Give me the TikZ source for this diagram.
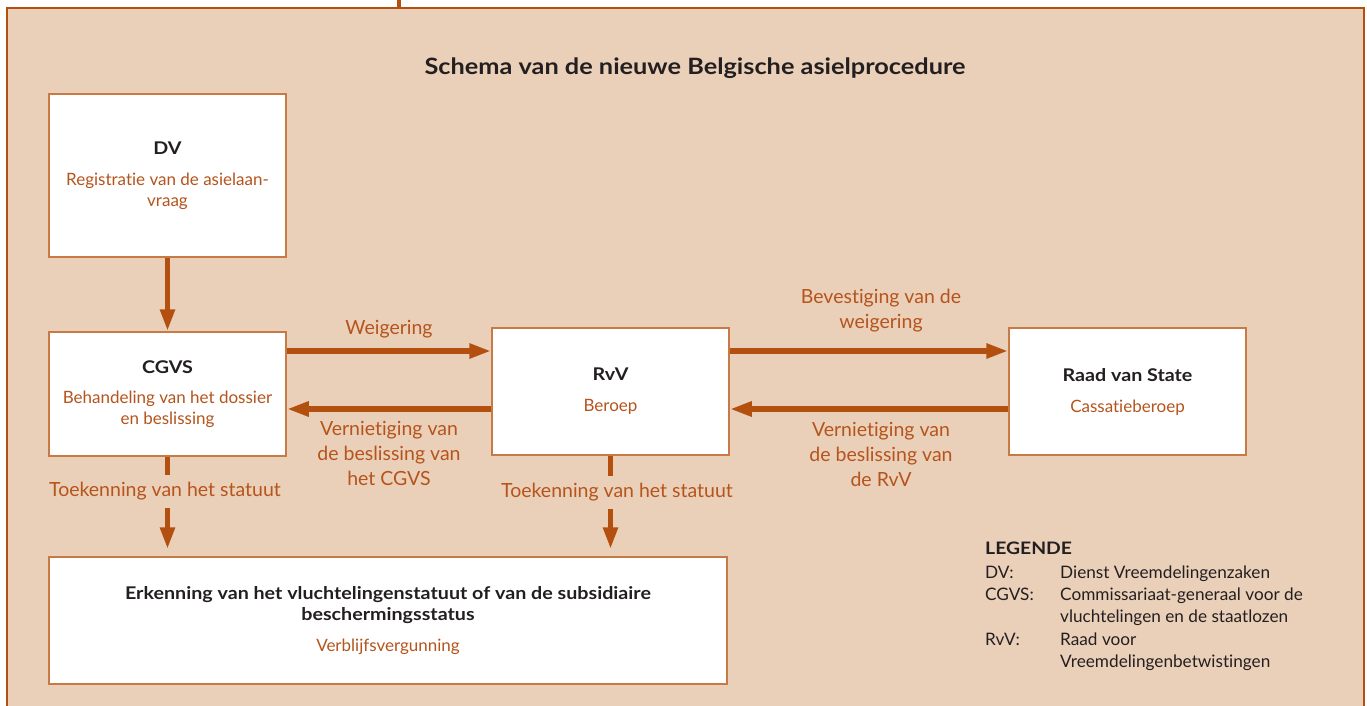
\documentclass[tikz,border=0pt]{standalone}
\usepackage{fontspec}
\setmainfont{Lato}[Ligatures=NoCommon, BoldFeatures={FakeStretch=1.125}]
\usetikzlibrary{arrows.meta}
\definecolor{bg}{HTML}{EBD0B9}
\definecolor{framec}{HTML}{B4500F}
\definecolor{boxline}{HTML}{C77A45}
\definecolor{otext}{HTML}{B5541C}
\definecolor{dtext}{HTML}{231F20}
\newcommand{\bodyfont}{\fontsize{17}{21}\selectfont}
\newcommand{\boldfont}{\fontsize{17.5}{21}\selectfont\bfseries}
\newcommand{\lblfont}{\fontsize{19.5}{25}\selectfont}
\newcommand{\legfont}{\fontsize{17.2}{22.3}\selectfont}
\begin{document}
\begin{tikzpicture}[x=1pt,y=-1pt,
  box/.style={draw=boxline, line width=1.5pt, fill=white, inner sep=0pt, align=center,
    text=dtext, font=\bodyfont},
  arr/.style={draw=framec, line width=5.5pt, -{Triangle[length=22pt,width=14pt]}},
  lbl/.style={text=otext, font=\lblfont, align=center, inner sep=0pt},
  gaplbl/.style={lbl, fill=bg, minimum height=33pt}]
\useasboundingbox (0,0) rectangle (1367,706);
% frame
\fill[bg] (7,8) rectangle (1364,706);
\draw[framec, line width=2.5pt] (7,720) -- (7,8) -- (1364,8) -- (1364,720);
\draw[framec, line width=4pt] (399,0) -- (399,8);
% title
\node[text=dtext, font=\fontsize{22.5}{26}\selectfont\bfseries] (title) at (695,68)
  {Schema van de nieuwe Belgische asielprocedure};
% boxes
\node[box, minimum width=237pt, minimum height=163pt] (dv) at (167.5,175.5)
  {{\boldfont DV}\\[10pt]\textcolor{otext}{Registratie van de asielaan-}\\\textcolor{otext}{vraag}};
\node[box, minimum width=237pt, minimum height=124pt] (cgvs) at (167.5,394)
  {{\boldfont CGVS}\\[9pt]\textcolor{otext}{Behandeling van het dossier}\\\textcolor{otext}{en beslissing}};
\node[box, minimum width=237pt, minimum height=127pt] (rvv) at (610.5,391.5)
  {{\boldfont RvV}\\[10pt]\textcolor{otext}{Beroep}};
\node[box, minimum width=237pt, minimum height=127pt] (rvs) at (1127.5,391.5)
  {{\boldfont Raad van State}\\[10pt]\textcolor{otext}{Cassatieberoep}};
\node[box, minimum width=678pt, minimum height=127pt] (erk) at (388,620.5)
  {{\boldfont Erkenning van het vluchtelingenstatuut of van de subsidiaire}\\{\boldfont beschermingsstatus}\\[10pt]\textcolor{otext}{Verblijfsvergunning}};
% arrows
\draw[arr] (dv.south) -- (cgvs.north);
\draw[arr] (cgvs.east |- 0,351) -- (rvv.west |- 0,351);
\draw[arr] (rvv.west |- 0,409) -- (cgvs.east |- 0,409);
\draw[arr] (rvv.east |- 0,351) -- (rvs.west |- 0,351);
\draw[arr] (rvs.west |- 0,409) -- (rvv.east |- 0,409);
\draw[arr, shorten >=7pt] (cgvs.south) -- (erk.north -| cgvs.south);
\draw[arr, shorten >=7pt] (rvv.south) -- (erk.north -| rvv.south);
% labels
\node[lbl] (lw) at (389,329) {Weigering};
\node[lbl] (lv1) at (389,453) {Vernietiging van\\de beslissing van\\het CGVS};
\node[lbl] (lb) at (881,311) {Bevestiging van de\\weigering};
\node[lbl] (lv2) at (881,454) {Vernietiging van\\de beslissing van\\de RvV};
\node[gaplbl] (lt1) at (165,491) {Toekenning van het statuut};
\node[gaplbl] (lt2) at (617,492) {Toekenning van het statuut};
% legend
\node[anchor=north west, inner sep=0pt, text=dtext, font=\legfont] (leg) at (985,539)
  {\def\arraystretch{1}\setlength{\tabcolsep}{0pt}%
   \begin{tabular}{@{}p{75pt}@{}l@{}}
   \multicolumn{2}{@{}l}{\textbf{LEGENDE}}\\[1pt]
   DV: & Dienst Vreemdelingenzaken\\
   CGVS: & Commissariaat-generaal voor de\\
         & vluchtelingen en de staatlozen\\
   RvV: & Raad voor\\
        & Vreemdelingenbetwistingen
   \end{tabular}};
\end{tikzpicture}
\end{document}
